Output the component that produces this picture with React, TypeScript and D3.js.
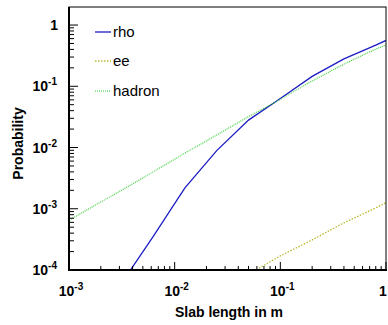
import React from 'react';
import * as d3 from 'd3';

const width = 388;
const height = 325;
const left = 69, right = 386, top = 7, bottom = 270;

// curves (x = slab length in m, y = probability)
const rhoX = [0.003125, 0.00625, 0.0125, 0.025, 0.05, 0.1, 0.2, 0.4, 0.8, 1];
const rhoY = [6e-5, 3.5e-4, 2.2e-3, 8.9e-3, 0.028, 0.063, 0.145, 0.28, 0.47, 0.56];
const eeX = [0.05, 0.1, 0.2, 0.4, 0.8, 1];
const eeY = [8.5e-5, 1.7e-4, 3.1e-4, 5.9e-4, 1.03e-3, 1.26e-3];
const hadronX = [0.001, 0.003125, 0.00625, 0.0125, 0.025, 0.05, 0.1, 0.2, 0.4, 0.8, 1];
const hadronY = [6.5e-4, 2.0e-3, 4.0e-3, 8.1e-3, 0.016, 0.032, 0.061, 0.122, 0.23, 0.405, 0.47];

const legendNames = ['rho', 'ee', 'hadron'];
const xDecades = [-3, -2, -1, 0];
const yDecades = [-4, -3, -2, -1, 0];

const x = d3.scaleLog().domain([1e-3, 1]).range([left, right]);
const y = d3.scaleLog().domain([1e-4, 1.97]).range([bottom, top]);

const line = d3.line<[number, number]>()
  .x(d => x(d[0]))
  .y(d => y(d[1]));

const zip = (a: number[], b: number[]) => a.map((v, i) => [v, b[i]] as [number, number]);

const series = [
  { name: 'rho', pts: zip(rhoX, rhoY), color: '#1c1cc4', dash: undefined, w: 1.3 },
  { name: 'ee', pts: zip(eeX, eeY), color: '#b8b830', dash: '1.5,1.5', w: 1.3 },
  { name: 'hadron', pts: zip(hadronX, hadronY), color: '#33cc33', dash: '1,1', w: 1.1 },
];

function minors(decades: number[], lo: number, hi: number) {
  const out: number[] = [];
  decades.forEach(k => {
    for (let m = 2; m <= 9; m++) {
      const v = m * Math.pow(10, k);
      if (v > lo && v < hi) out.push(v);
    }
  });
  return out;
}

const font = 'Liberation Sans, Arial, Helvetica, sans-serif';

const Label = ({ k, ...rest }: any) => (
  k === 0
    ? <text {...rest}>1</text>
    : <text {...rest}>10<tspan dy={-6} fontSize={10}>{k}</tspan></text>
);

const App = () => {
  const xMin = minors([-3, -2, -1], 1e-3, 1);
  const yMin = minors([-4, -3, -2, -1, 0], 1e-4, 1.97);
  return (
    <div style={{ position: 'absolute', left: 0, top: 0 }}>
      <svg width={width} height={height} style={{ display: 'block', background: '#fff' }}>
        <defs>
          <clipPath id="plot">
            <rect x={left} y={top} width={right - left} height={bottom - top} />
          </clipPath>
        </defs>
        <g clipPath="url(#plot)">
          {series.map(s => (
            <path key={s.name} d={line(s.pts) || ''} fill="none" stroke={s.color}
              strokeWidth={s.w} strokeDasharray={s.dash} />
          ))}
        </g>
        {/* frame */}
        <rect x={left} y={top} width={right - left} height={bottom - top} fill="none" stroke="#000" strokeWidth={1} />
        <line x1={left} x2={left} y1={top} y2={bottom + 1} stroke="#000" strokeWidth={2} />
        <line x1={left - 1} x2={right + 1} y1={bottom} y2={bottom} stroke="#000" strokeWidth={2} />
        {/* y ticks */}
        {yDecades.map(k => (
          <line key={'ym' + k} x1={left} x2={left + 9} y1={y(Math.pow(10, k))} y2={y(Math.pow(10, k))} stroke="#000" />
        ))}
        {yMin.map((v, i) => (
          <line key={'yn' + i} x1={left} x2={left + 5} y1={y(v)} y2={y(v)} stroke="#000" />
        ))}
        {/* x ticks */}
        {xDecades.map(k => (
          <line key={'xm' + k} x1={x(Math.pow(10, k))} x2={x(Math.pow(10, k))} y1={bottom} y2={bottom - 8} stroke="#000" />
        ))}
        {xMin.map((v, i) => (
          <line key={'xn' + i} x1={x(v)} x2={x(v)} y1={bottom} y2={bottom - 4} stroke="#000" />
        ))}
        {/* tick labels */}
        <g fontFamily={font} fontWeight="bold" fontSize={14} fill="#000">
          {yDecades.map(k => (
            <Label key={'yl' + k} k={k} x={k === 0 ? 58 : 57} y={y(Math.pow(10, k)) + 5} textAnchor="end" />
          ))}
          {xDecades.map(k => (
            <Label key={'xl' + k} k={k} x={k === 0 ? 383 : x(Math.pow(10, k)) + 2} y={296} textAnchor="middle" />
          ))}
        </g>
        {/* axis titles */}
        <text x={229} y={317} textAnchor="middle" fontFamily={font} fontWeight="bold" fontSize={14}>Slab length in m</text>
        <text transform={`translate(23,${(top + bottom) / 2 + 5}) rotate(-90)`} textAnchor="middle"
          fontFamily={font} fontWeight="bold" fontSize={14}>Probability</text>
        {/* legend */}
        <g fontFamily={font} fontSize={15}>
          {series.map((s, i) => {
            const ly = [32, 61, 91][i];
            return (
              <g key={'lg' + s.name}>
                <line x1={95} x2={111} y1={ly} y2={ly} stroke={s.color} strokeWidth={s.w} strokeDasharray={s.dash} />
                <text x={113} y={ly + 5}>{legendNames[i]}</text>
              </g>
            );
          })}
        </g>
      </svg>
    </div>
  );
};

export default App;
